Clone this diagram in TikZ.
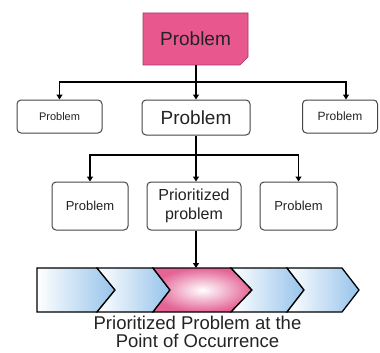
\documentclass[tikz,border=0pt]{standalone}
\usepackage{fontspec}
\setmainfont{Liberation Sans}
\usetikzlibrary{arrows.meta,shapes.misc}
\definecolor{pinkbox}{RGB}{232,88,142}
\definecolor{pinkedge}{RGB}{170,50,100}
\definecolor{boxedge}{RGB}{70,70,70}
\definecolor{txt}{RGB}{35,35,35}
\definecolor{chevblue}{RGB}{150,195,235}
\definecolor{chevpink}{RGB}{228,100,150}
\tikzset{
  probbox/.style={draw=boxedge, line width=1pt, rounded corners=4pt, fill=white,
    text=txt, align=center, inner sep=1pt},
  topbox/.style={chamfered rectangle, chamfered rectangle corners=south east,
    chamfered rectangle xsep=4pt, chamfered rectangle ysep=4pt,
    draw=pinkedge, line width=0.6pt, fill=pinkbox, text=txt, inner sep=0pt},
  conn/.style={line width=1.8pt, black},
  arr/.style={conn, -{Triangle[width=6pt,length=5pt]}},
  chev/.style={draw=black, line width=1.3pt, line join=miter},
}
\begin{document}
\begin{tikzpicture}[x=1pt,y=-1pt]
\useasboundingbox (0,0) rectangle (380,353);
% top
\node[topbox, minimum width=105pt, minimum height=52pt, font=\fontsize{19}{21}\selectfont] (top) at (195.5,39) {Problem};
% level 2
\node[probbox, minimum width=85pt, minimum height=33pt, font=\fontsize{11}{12}\selectfont] (l2a) at (59.5,116.5) {Problem};
\node[probbox, minimum width=108pt, minimum height=35pt, font=\fontsize{19}{21}\selectfont] (l2b) at (196,117.5) {Problem};
\node[probbox, minimum width=75pt, minimum height=33pt, font=\fontsize{12}{13}\selectfont] (l2c) at (340,116.5) {Problem};
% level 3
\node[probbox, minimum width=76pt, minimum height=48pt, font=\fontsize{13}{14}\selectfont] (l3a) at (90,206) {Problem};
\node[probbox, minimum width=94pt, minimum height=48pt, font=\fontsize{16}{19}\selectfont] (l3b) at (194,206) {Prioritized\\problem};
\node[probbox, minimum width=77pt, minimum height=48pt, font=\fontsize{13}{14}\selectfont] (l3c) at (298.5,206) {Problem};
% junctions
\coordinate (j1) at (196,82);
\coordinate (j2) at (196,155);
\coordinate (band) at (196,268);
\draw[conn] (top.south -| j1) -- (j1);
\draw[arr] (j1) -| (l2a.north);
\draw[arr] (j1) -- (l2b.north -| j1);
\draw[arr] (j1) -| ([xshift=6pt]l2c.north);
\draw[conn] (l2b.south -| j2) -- (j2);
\draw[arr] (j2) -| (l3a.north);
\draw[arr] (j2) -- (l3b.north -| j2);
\draw[arr] (j2) -| (l3c.north);
% chevrons
\path[chev, left color=white, right color=chevblue]
  (37,268) -- (97,268) -- (115,290) -- (97,312) -- (37,312) -- cycle;
\path[chev, left color=white, right color=chevblue]
  (97,268) -- (153,268) -- (170,290) -- (153,312) -- (97,312) -- (115,290) -- cycle;
\path[chev, inner color=white, outer color=chevpink]
  (153,268) -- (231,268) -- (252,290) -- (231,312) -- (153,312) -- (170,290) -- cycle;
\path[chev, left color=white, right color=chevblue]
  (231,268) -- (287,268) -- (304,290) -- (287,312) -- (231,312) -- (252,290) -- cycle;
\path[chev, left color=white, right color=chevblue]
  (287,268) -- (342,268) -- (359,290) -- (342,312) -- (287,312) -- (304,290) -- cycle;
\draw[arr] (l3b.south -| band) -- (band);
\node[text=txt, align=center, font=\fontsize{18.5}{17.5}\selectfont, inner sep=0pt] (cap) at (197.5,332) {Prioritized Problem at the\\Point of Occurrence};
\end{tikzpicture}
\end{document}
